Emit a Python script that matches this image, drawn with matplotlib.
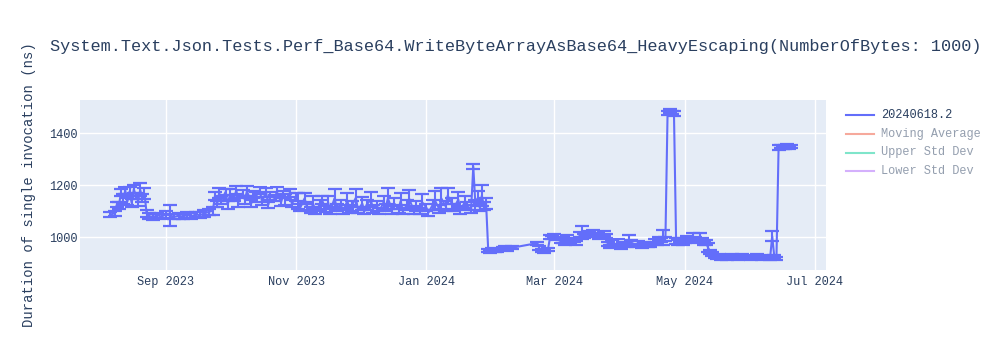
import matplotlib
matplotlib.use("Agg")
import matplotlib.pyplot as plt
import matplotlib.dates as mdates
from matplotlib.lines import Line2D
import pandas as pd

title = "System.Text.Json.Tests.Perf_Base64.WriteByteArrayAsBase64_HeavyEscaping(NumberOfBytes: 1000)"
y_label = "Duration of single invocation (ns)"
series_name = "20240618.2"
legend_names = ["20240618.2", "Moving Average", "Upper Std Dev", "Lower Std Dev"]
legend_colors = ["#636EFA", "#EF553B", "#00CC96", "#AB63FA"]
legend_visible = [True, False, False, False]
y_ticks = [1000, 1200, 1400]

dates = [
    # Aug 2023
    "2023-08-06", "2023-08-08", "2023-08-09", "2023-08-10", "2023-08-11", "2023-08-12",
    "2023-08-13", "2023-08-14", "2023-08-15", "2023-08-16", "2023-08-17", "2023-08-18",
    "2023-08-19", "2023-08-20", "2023-08-21", "2023-08-22", "2023-08-23",
    "2023-08-24", "2023-08-26", "2023-08-28", "2023-08-30",
    # Sep 2023
    "2023-09-01", "2023-09-03", "2023-09-05", "2023-09-07", "2023-09-09", "2023-09-11",
    "2023-09-13", "2023-09-15", "2023-09-17", "2023-09-19", "2023-09-21", "2023-09-23",
    "2023-09-24", "2023-09-25", "2023-09-26", "2023-09-27", "2023-09-29", "2023-09-30",
    # Oct 2023
    "2023-10-01", "2023-10-03", "2023-10-04", "2023-10-05", "2023-10-07", "2023-10-08",
    "2023-10-09", "2023-10-11", "2023-10-12", "2023-10-13", "2023-10-15", "2023-10-16",
    "2023-10-18", "2023-10-19", "2023-10-20", "2023-10-22", "2023-10-23", "2023-10-25",
    "2023-10-26", "2023-10-27", "2023-10-29", "2023-10-30",
    # Nov 2023
    "2023-11-01", "2023-11-02", "2023-11-03", "2023-11-05", "2023-11-06", "2023-11-08",
    "2023-11-09", "2023-11-10", "2023-11-12", "2023-11-13", "2023-11-15", "2023-11-16",
    "2023-11-17", "2023-11-19", "2023-11-20", "2023-11-22", "2023-11-23", "2023-11-25",
    "2023-11-26", "2023-11-27", "2023-11-29", "2023-11-30",
    # Dec 2023
    "2023-12-02", "2023-12-03", "2023-12-04", "2023-12-06", "2023-12-07", "2023-12-09",
    "2023-12-10", "2023-12-12", "2023-12-13", "2023-12-14", "2023-12-16", "2023-12-17",
    "2023-12-19", "2023-12-20", "2023-12-21", "2023-12-23", "2023-12-24", "2023-12-26",
    "2023-12-27", "2023-12-29", "2023-12-30",
    # Jan 2024
    "2024-01-01", "2024-01-02", "2024-01-04", "2024-01-05", "2024-01-07", "2024-01-08",
    "2024-01-10", "2024-01-11", "2024-01-13", "2024-01-14", "2024-01-16", "2024-01-17",
    "2024-01-19", "2024-01-20", "2024-01-22", "2024-01-23", "2024-01-24", "2024-01-25",
    "2024-01-26", "2024-01-27", "2024-01-28", "2024-01-29", "2024-01-30", "2024-01-31",
    # Feb 2024
    "2024-02-01", "2024-02-02", "2024-02-03", "2024-02-06", "2024-02-07", "2024-02-08",
    "2024-02-10", "2024-02-22", "2024-02-23", "2024-02-24", "2024-02-25", "2024-02-27",
    "2024-02-28", "2024-02-29",
    # Mar 2024
    "2024-03-01", "2024-03-02", "2024-03-04", "2024-03-05", "2024-03-06", "2024-03-07",
    "2024-03-08", "2024-03-10", "2024-03-11", "2024-03-13", "2024-03-14", "2024-03-15",
    "2024-03-17", "2024-03-18", "2024-03-19", "2024-03-21", "2024-03-22", "2024-03-24",
    "2024-03-25", "2024-03-26", "2024-03-27", "2024-03-28", "2024-03-30", "2024-03-31",
    # Apr 2024
    "2024-04-01", "2024-04-02", "2024-04-04", "2024-04-05", "2024-04-06", "2024-04-08",
    "2024-04-09", "2024-04-11", "2024-04-12", "2024-04-14", "2024-04-15", "2024-04-17",
    "2024-04-18", "2024-04-19", "2024-04-20", "2024-04-21", "2024-04-22", "2024-04-23",
    "2024-04-24", "2024-04-25", "2024-04-26", "2024-04-27", "2024-04-28", "2024-04-29",
    "2024-04-30",
    # May 2024
    "2024-05-01", "2024-05-02", "2024-05-04", "2024-05-05", "2024-05-06", "2024-05-07",
    "2024-05-08", "2024-05-09", "2024-05-10", "2024-05-11", "2024-05-12", "2024-05-13",
    "2024-05-14", "2024-05-15", "2024-05-16", "2024-05-17", "2024-05-18", "2024-05-19",
    "2024-05-21", "2024-05-22", "2024-05-23", "2024-05-24", "2024-05-26", "2024-05-27",
    "2024-05-28", "2024-05-30", "2024-05-31",
    # Jun 2024
    "2024-06-01", "2024-06-02", "2024-06-04", "2024-06-05", "2024-06-06", "2024-06-08",
    "2024-06-09", "2024-06-10", "2024-06-11", "2024-06-12", "2024-06-13", "2024-06-14",
    "2024-06-15", "2024-06-16", "2024-06-17", "2024-06-18", "2024-06-19", "2024-06-20",
]

values = [
    # Aug 2023
    1088, 1092, 1125, 1122, 1172, 1148,
    1180, 1138, 1176, 1132, 1185, 1158,
    1140, 1182, 1150, 1168, 1092,
    1082, 1078, 1085, 1080,
    # Sep 2023
    1088, 1084, 1079, 1083, 1080, 1086,
    1081, 1088, 1085, 1092, 1098, 1102,
    1160, 1128, 1170, 1142, 1175, 1125,
    # Oct 2023
    1165, 1150, 1182, 1135, 1170, 1145,
    1178, 1130, 1165, 1155, 1180, 1140,
    1172, 1125, 1160, 1150, 1175, 1135,
    1165, 1145, 1170, 1130,
    # Nov 2023
    1155, 1140, 1115, 1150, 1120, 1105,
    1130, 1100, 1125, 1145, 1108, 1135,
    1100, 1150, 1115, 1125, 1100, 1140,
    1110, 1120, 1152, 1105,
    # Dec 2023
    1130, 1100, 1125, 1145, 1110, 1120,
    1100, 1135, 1115, 1150, 1105, 1130,
    1110, 1140, 1100, 1125, 1148, 1105,
    1120, 1100, 1135,
    # Jan 2024
    1115, 1095, 1125, 1142, 1110, 1150,
    1120, 1160, 1130, 1115, 1145, 1105,
    1135, 1120, 1110, 1272, 1125, 1150,
    1115, 1160, 1120, 1130, 950, 945,
    # Feb 2024
    952, 947, 950, 958, 962, 955,
    960, 978, 958, 950, 946, 955,
    1002, 998,
    # Mar 2024
    1005, 995, 985, 990, 980, 995,
    985, 990, 978, 1010, 1018, 1005,
    1015, 1008, 1020, 1010, 1000, 1015,
    1005, 975, 965, 980, 970, 985,
    # Apr 2024
    962, 975, 970, 990, 980, 970,
    978, 965, 975, 970, 968, 985,
    975, 995, 990, 1000, 995, 1478,
    1485, 1480, 1476, 985, 980, 990,
    975,
    # May 2024
    985, 995, 990, 1000, 995, 985,
    1002, 990, 975, 980, 960, 945,
    935, 928, 922, 930, 920, 925,
    918, 928, 932, 925, 920, 928,
    930, 922, 925,
    # Jun 2024
    918, 922, 930, 925, 920, 928,
    922, 918, 1005, 925, 920, 1345,
    1350, 1345, 1348, 1352, 1345, 1348,
]

errors = [
    # Aug 2023
    10, 8, 10, 12, 15, 20,
    12, 15, 18, 14, 15, 12,
    18, 25, 15, 20, 12,
    10, 12, 10, 8,
    # Sep 2023
    12, 40, 10, 12, 8, 10,
    12, 10, 12, 15, 12, 15,
    15, 12, 18, 15, 12, 15,
    # Oct 2023
    20, 12, 15, 18, 12, 15,
    18, 12, 15, 20, 12, 15,
    18, 12, 15, 12, 18, 15,
    12, 20, 15, 12,
    # Nov 2023
    15, 30, 15, 20, 15, 12,
    30, 12, 18, 15, 12, 25,
    12, 35, 15, 20, 12, 30,
    15, 18, 35, 12,
    # Dec 2023
    25, 12, 20, 30, 15, 20,
    12, 25, 15, 40, 15, 20,
    15, 30, 12, 20, 35, 15,
    18, 12, 30,
    # Jan 2024
    15, 12, 20, 35, 15, 40,
    20, 30, 20, 15, 30, 15,
    25, 15, 15, 10, 20, 30,
    15, 40, 15, 20, 5, 5,
    # Feb 2024
    6, 5, 6, 6, 5, 6,
    5, 6, 8, 6, 5, 6,
    8, 6,
    # Mar 2024
    8, 6, 8, 10, 8, 15,
    10, 8, 8, 10, 25, 8,
    10, 8, 10, 8, 8, 10,
    8, 8, 6, 8, 6, 10,
    # Apr 2024
    6, 8, 6, 18, 8, 6,
    8, 6, 8, 6, 6, 8,
    6, 8, 6, 28, 8, 8,
    8, 6, 8, 12, 8, 8,
    6,
    # May 2024
    8, 10, 8, 15, 8, 8,
    15, 8, 6, 8, 18, 8,
    8, 6, 6, 6, 5, 6,
    5, 6, 6, 5, 6, 5,
    6, 5, 6,
    # Jun 2024
    5, 6, 6, 5, 6, 6,
    5, 6, 18, 6, 6, 8,
    6, 6, 8, 6, 6, 6,
]

FONT = ["Liberation Mono", "DejaVu Sans Mono"]
TEXT = "#2a3f5f"
W, H = 1000, 350

x = pd.to_datetime(dates)

fig = plt.figure(figsize=(W / 100, H / 100), dpi=100)
fig.patch.set_facecolor("white")
ax = fig.add_axes([80 / W, 1 - 270 / H, 746 / W, 170 / H])
ax.set_facecolor("#E5ECF6")

ax.errorbar(x, values, yerr=errors, color="#636EFA", lw=1.5, elinewidth=1.5,
            capsize=5, capthick=1.6, zorder=3)

ax.set_xlim(pd.Timestamp("2023-07-22 19:00"), pd.Timestamp("2024-07-06 05:00"))
ax.set_ylim(874.7, 1527.6)
ax.set_yticks(y_ticks)
ax.xaxis.set_major_locator(mdates.MonthLocator(bymonth=[1, 3, 5, 7, 9, 11]))
ax.xaxis.set_major_formatter(mdates.DateFormatter("%b %Y"))
ax.grid(True, color="white", lw=1, zorder=0)
ax.set_axisbelow(True)
for s in ax.spines.values():
    s.set_visible(False)
ax.tick_params(length=0, labelsize=8.6, colors=TEXT)
ax.tick_params(axis="y", pad=2)
ax.tick_params(axis="x", pad=4)
for lab in ax.get_xticklabels() + ax.get_yticklabels():
    lab.set_fontfamily(FONT)

fig.text(50 / W, 1 - 46 / H, title, ha="left", va="center", fontsize=12.2,
         color=TEXT, family=FONT)
fig.text(29 / W, 1 - 185 / H, y_label, ha="center", va="center", rotation=90,
         fontsize=10.0, color=TEXT, family=FONT)

legend_y = [115, 133.5, 152.5, 171]
for name, col, vis, ly in zip(legend_names, legend_colors, legend_visible, legend_y):
    a = 1.0 if vis else 0.5
    fig.add_artist(Line2D([846 / W, 874 / W], [1 - ly / H] * 2, transform=fig.transFigure,
                          color=col, lw=1.5, alpha=a))
    fig.text(881 / W, 1 - ly / H, name, ha="left", va="center", fontsize=8.6,
             color=TEXT, alpha=a, family=FONT)

fig.savefig("out.png", dpi=100)
